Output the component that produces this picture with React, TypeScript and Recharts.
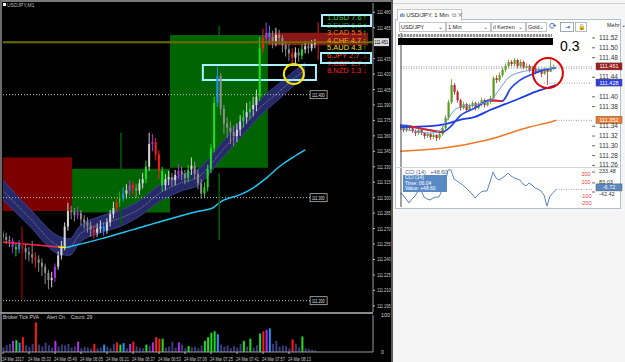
import {
  Area,
  Bar,
  Cell,
  ComposedChart,
  Line,
  ReferenceArea,
  ReferenceDot,
  ReferenceLine,
  XAxis,
  YAxis,
} from 'recharts'

const FONT = '"Liberation Sans", Arial, sans-serif'

// ---- left window: MT4 USDJPY M1, one candle per 2 minutes, prices in points above 111.000
const mtOpen = [
  265, 262, 259, 258, 252, 250, 255, 251, 247, 245, 242, 240, 237, 233, 227, 220, 222, 233, 244, 252,
  272, 287, 286, 283, 285, 279, 276, 273, 269, 266, 270, 272, 268, 276, 284, 290, 295, 300, 304, 307,
  312, 309, 307, 314, 318, 330, 352, 354, 342, 326, 312, 318, 320, 317, 322, 326, 323, 319, 327, 331,
  323, 314, 304, 310, 328, 348, 392, 418, 386, 372, 368, 364, 360, 366, 374, 378, 383, 386, 390, 398,
  445, 455, 460, 456, 452, 458, 455, 448, 444, 440, 436, 441, 438, 444, 447, 445, 449,
]
const mtHigh = [
  268, 266, 263, 261, 256, 259, 262, 255, 252, 258, 247, 244, 241, 236, 230, 228, 236, 248, 258, 276,
  295, 292, 290, 291, 288, 283, 281, 277, 273, 275, 278, 276, 280, 288, 296, 300, 306, 310, 313, 317,
  316, 313, 318, 324, 336, 363, 362, 358, 346, 330, 323, 326, 324, 327, 333, 330, 327, 332, 339, 335,
  327, 318, 315, 332, 352, 398, 427, 421, 390, 378, 374, 370, 372, 380, 385, 392, 394, 398, 405, 456,
  464, 470, 467, 462, 465, 463, 458, 452, 449, 445, 446, 445, 449, 452, 451, 453, 454,
]
const mtLow = [
  258, 255, 252, 246, 243, 246, 245, 240, 238, 236, 232, 228, 224, 216, 211, 213, 218, 230, 240, 249,
  268, 279, 277, 279, 273, 270, 266, 262, 260, 262, 266, 263, 265, 272, 280, 286, 291, 296, 299, 302,
  303, 300, 303, 309, 314, 326, 345, 336, 318, 306, 307, 312, 311, 312, 318, 317, 313, 315, 322, 318,
  308, 299, 300, 306, 324, 344, 388, 380, 362, 358, 352, 350, 354, 360, 368, 372, 376, 379, 384, 394,
  440, 450, 449, 445, 447, 449, 441, 437, 433, 430, 428, 432, 434, 440, 440, 442, 445,
]
const mtClose = [
  262, 259, 258, 252, 250, 255, 251, 247, 245, 242, 240, 237, 233, 227, 220, 222, 233, 244, 252, 272,
  287, 286, 283, 285, 279, 276, 273, 269, 266, 270, 272, 268, 276, 284, 290, 295, 300, 304, 307, 312,
  309, 307, 314, 318, 330, 352, 354, 342, 326, 312, 318, 320, 317, 322, 326, 323, 319, 327, 331, 323,
  314, 304, 310, 328, 348, 392, 418, 386, 372, 368, 364, 360, 366, 374, 378, 383, 386, 390, 398, 445,
  455, 460, 456, 452, 458, 455, 448, 444, 440, 436, 441, 438, 444, 447, 445, 449, 451,
]
const mtVolume = [
  12, 18, 22, 30, 32, 25, 40, 18, 14, 22, 80, 20, 15, 25, 18, 12, 30, 15, 20, 18,
  22, 12, 15, 28, 10, 14, 12, 9, 22, 10, 12, 20, 14, 10, 22, 26, 20, 24, 10, 22,
  28, 15, 12, 10, 20, 16, 26, 40, 36, 36, 12, 15, 28, 12, 26, 20, 10, 16, 12, 14,
  10, 18, 30, 40, 52, 56, 48, 20, 14, 18, 10, 16, 12, 22, 30, 15, 36, 12, 18, 50,
  56, 60, 64, 22, 30, 14, 18, 16, 10, 34, 22, 12, 42, 10, 8, 6, 4,
]
// PVA class of each candle: n normal, r/g/b/p climax colours
const mtPva = (
  'nnnpgbrnnn' + 'rnnnnnpnnn' + 'nnnpnnnnrn' + 'nbnnnrgbnp' + 'rnnngnprrg' +
  'nnnnpnngnn' + 'nnggggbnnn' + 'nnnngngnng' + 'rpbnnnnnnr' + 'nngnnnn'
).split('')

// moving-average ribbon (minutes, points)
const bandMinute = [0, 16, 35, 41, 47, 60, 72, 84, 97, 109, 121, 134, 146, 158, 170, 180, 186]
const bandTop = [317, 290, 262, 260, 272, 282, 288, 297, 313, 322, 329, 352, 374, 395, 411, 424, 431]
const bandMid = [307, 281, 253, 252, 264, 274, 280, 289, 305, 314, 321, 344, 366, 387, 403, 417, 424]
const bandBottom = [298, 273, 245, 244, 256, 266, 272, 282, 297, 306, 313, 337, 358, 379, 396, 410, 417]

// slow MA: red part, yellow turn, cyan part
const maRedMinute = [0, 34]
const maRedValue = [257, 252]
const maYellowMinute = [34, 39]
const maYellowValue = [252, 251.6]
const maCyanMinute = [39, 60, 80, 101, 121, 129, 134, 146, 154, 162, 170, 178, 186]
const maCyanValue = [251.6, 260, 269, 278.6, 287, 290, 296, 303, 309.6, 319, 330, 338.7, 346.4]

// supply / demand zones
const zoneFrom = [0, 42.5, 102.8, 162.5]
const zoneTo = [42.5, 102.8, 163, 224.6]
const zoneLow = [287, 285.5, 329, 448]
const zoneHigh = [339, 328, 458, 460]
const zoneColors = ['#7d0000', '#006400', '#006400', '#8a1818']

// vertical spikes
const spikeMinute = [11.7, 72.6, 133, 133, 194]
const spikeLow = [201, 274, 259, 458, 433.5]
const spikeHigh = [272, 363, 324, 467, 470]
const spikeColors = ['#8b0000', '#006000', '#006000', '#006000', '#a01010']

const mtLevels = [111.4, 111.3, 111.2]
const mtBid = 111.451
const mtPriceTicks = [
  111.48, 111.465, 111.435, 111.42, 111.405, 111.39, 111.375, 111.36, 111.345, 111.33,
  111.315, 111.3, 111.285, 111.27, 111.255, 111.24, 111.225, 111.21, 111.195,
]
const mtTimeMinute = [0, 16, 32, 48, 64, 80, 96, 112, 128, 144, 160, 176]
const mtTimeLabel = [
  '24 Mar 2017', '24 Mar 05:33', '24 Mar 05:49', '24 Mar 06:05', '24 Mar 06:21', '24 Mar 06:37',
  '24 Mar 06:53', '24 Mar 07:09', '24 Mar 07:25', '24 Mar 07:41', '24 Mar 07:57', '24 Mar 08:13',
]

// currency strength meter
const csRank = ['1.USD', '2.EUR', '3.CAD', '4.CHF', '5.AUD', '6.JPY', '7.GBP', '8.NZD']
const csValue = ['7.6', '6.9', '5.5', '4.7', '4.3', '2.7', '2.7', '1.3']
const csUp = [true, true, true, true, true, false, false, false]
const csColors = ['#30d030', '#3a8c10', '#ff7a1a', '#f0a818', '#e6e020', '#ff4a20', '#ff2020', '#ff2020']

// ---- right window: web platform USD/JPY 1 Min, prices in points above 111.000
const rOpen = [
  338, 336, 332, 340, 336, 330, 326, 332, 326, 320, 324, 318, 322, 316, 324, 336, 357, 389, 424, 410,
  393, 377, 385, 373, 381, 387, 377, 385, 393, 383, 389, 397, 438, 434, 444, 455, 463, 471, 467, 475,
  463, 471, 459, 463, 455, 459, 451, 455, 447, 455, 451, 459,
]
const rHigh = [
  342, 340, 344, 342, 338, 333, 336, 334, 328, 328, 326, 326, 324, 328, 340, 362, 394, 436, 428, 414,
  396, 390, 388, 386, 392, 390, 390, 398, 396, 394, 402, 442, 444, 450, 460, 468, 476, 475, 479, 477,
  476, 474, 468, 466, 463, 462, 460, 458, 460, 458, 476, 466,
]
const rLow = [
  332, 328, 328, 332, 326, 320, 322, 322, 314, 316, 312, 314, 310, 312, 320, 333, 352, 385, 404, 388,
  372, 374, 368, 370, 378, 372, 374, 380, 378, 380, 385, 395, 428, 430, 440, 450, 458, 462, 462, 458,
  458, 456, 455, 450, 452, 446, 448, 440, 445, 424, 452, 455,
]
const rClose = [
  336, 332, 340, 336, 330, 326, 332, 326, 320, 324, 318, 322, 316, 324, 336, 357, 389, 424, 410, 393,
  377, 385, 373, 381, 387, 377, 385, 393, 383, 389, 397, 438, 434, 444, 455, 463, 471, 467, 475, 463,
  471, 459, 463, 455, 459, 451, 455, 447, 455, 451, 459, 461,
]
const rFastIdx = [0, 5, 10, 13, 16, 18, 20, 25, 30, 33, 36, 40, 45, 52]
const rFastVal = [334, 330, 326, 330, 355, 372, 379, 384, 392, 414, 438, 450, 455, 459]
const rMidIdx = [0, 3, 8, 14, 17, 20, 25, 30, 34, 37, 40, 44, 48, 52]
const rMidVal = [342, 340, 334, 328, 340, 361, 377, 393, 391, 418, 434, 446, 455, 459]
const rMidFalling = [[3, 14], [30, 34]]
const rSlowIdx = [0, 10, 15, 20, 25, 30, 35, 40, 45, 50, 52]
const rSlowVal = [338, 340, 344, 353, 359, 373, 385, 397, 410, 420, 424]
const rOrangeIdx = [0, 14, 29, 43, 51, 52]
const rOrangeVal = [289, 295, 312, 338, 350, 352]
const rPriceTicks = [111.52, 111.5, 111.48, 111.44, 111.4, 111.38, 111.34, 111.32, 111.3, 111.28, 111.26]
const rTags = [111.461, 111.428, 111.352]
const rTagColors = ['#9e1a1a', '#2f3fe0', '#f07a2c']

const cciValue = [
  -56, -84, -139, -194, -139, -98, -29, -15, -112, -139, -153, -125, -112, -112, -15, 68, 261, 261, 137, 109,
  82, 54, 13, -29, -70, -125, -84, -42, -29, -29, 95, 233, 151, 123, 151, 178, 220, 178, 151, 137,
  123, 68, 40, 82, 54, 13, -1, -29, -84, -236, -98, -56, -7,
]
const cciLevels = [200, 100, -100, -200]
const cciTicks = [233.48, 83.03, -42.42]
const cciLast = -6.72

const toPrice = (p: number) => 111 + p / 1000

const PVA: Record<string, string> = { r: '#ff1a1a', g: '#1ee01e', b: '#1e90ff', p: '#b030e8' }

const mtRows = mtClose.map((c, i) => ({
  m: i * 2,
  open: toPrice(mtOpen[i]),
  close: toPrice(c),
  high: toPrice(mtHigh[i]),
  low: toPrice(mtLow[i]),
  range: [toPrice(mtLow[i]), toPrice(mtHigh[i])],
  vol: mtVolume[i],
  pva: mtPva[i],
}))
const bandRows = bandMinute.map((m, i) => ({
  m,
  band: [toPrice(bandBottom[i]), toPrice(bandTop[i])],
  mid: toPrice(bandMid[i]),
}))
const pairs = (xs: number[], vs: number[], key = 'm') =>
  xs.map((x, i) => ({ [key]: x, v: toPrice(vs[i]) }))

const rRows = rClose.map((c, i) => ({
  i,
  open: toPrice(rOpen[i]),
  close: toPrice(c),
  high: toPrice(rHigh[i]),
  low: toPrice(rLow[i]),
  range: [toPrice(rLow[i]), toPrice(rHigh[i])],
}))
const cciRows = cciValue.map((v, i) => ({ i, v }))

function candleGeom(props: any) {
  const { x, y, width, height, payload } = props
  const top = Math.min(y, y + height)
  const h = Math.abs(height)
  const k = payload.high > payload.low ? h / (payload.high - payload.low) : 0
  const yo = top + (payload.high - payload.open) * k
  const yc = top + (payload.high - payload.close) * k
  return { cx: x + width / 2, top, h, yo, yc }
}

function MtCandle(props: any) {
  if (!props.payload || props.height == null) return null
  const { cx, top, h, yo, yc } = candleGeom(props)
  const p = props.payload
  const color = p.pva === 'n' ? (p.close >= p.open ? '#d6d6d6' : '#8e8e8e') : PVA[p.pva]
  return (
    <g>
      <line x1={cx} x2={cx} y1={top} y2={top + h} stroke={color} strokeWidth={1} />
      <rect x={cx - 1} y={Math.min(yo, yc)} width={2} height={Math.max(1, Math.abs(yc - yo))} fill={color} />
    </g>
  )
}

function RCandle(props: any) {
  if (!props.payload || props.height == null) return null
  const { cx, top, h, yo, yc } = candleGeom(props)
  const p = props.payload
  const color = p.close >= p.open ? '#5c9a1c' : '#b8282c'
  return (
    <g>
      <line x1={cx} x2={cx} y1={top} y2={top + h} stroke={color} strokeWidth={0.8} />
      <rect x={cx - 1} y={Math.min(yo, yc)} width={2.2} height={Math.max(1, Math.abs(yc - yo))} fill={color} />
    </g>
  )
}

// narrow MT4 pixel font: squeeze text horizontally
function Squeezed({ x, y, size, sx, fill, children }: any) {
  return (
    <text transform={`translate(${x},${y}) scale(${sx},1)`} fontSize={size} fill={fill} fontFamily={FONT}>
      {children}
    </text>
  )
}

const mtTick = (props: any) => (
  <Squeezed x={props.x} y={props.y + 2} size={5.5} sx={0.72} fill="#d0d0d0">
    {Number(props.payload.value).toFixed(3)}
  </Squeezed>
)

const mtTimeTick = (props: any) => {
  const idx = mtTimeMinute.indexOf(props.payload.value)
  return (
    <Squeezed x={props.x - 1} y={props.y + 5} size={5} sx={0.78} fill="#c8c8c8">
      {mtTimeLabel[idx]}
    </Squeezed>
  )
}

const levelTag = (value: number) => (props: any) => (
  <g>
    <rect x={props.cx} y={props.cy - 4} width={17} height={8} fill="#000" stroke="#b8b8b8" strokeWidth={0.8} />
    <Squeezed x={props.cx + 2} y={props.cy + 2} size={5} sx={0.72} fill="#e0e0e0">
      {value.toFixed(3)}
    </Squeezed>
  </g>
)

const bidTag = (props: any) => (
  <g>
    <rect x={props.cx + 1} y={props.cy - 4} width={15} height={8} fill="#d8d8d8" />
    <Squeezed x={props.cx + 1.5} y={props.cy + 2} size={5.5} sx={0.72} fill="#000">
      {mtBid.toFixed(3)}
    </Squeezed>
  </g>
)

const rTag = (color: string, text: string) => (props: any) => (
  <g>
    <rect x={props.cx + 4} y={props.cy - 4} width={26} height={7} fill={color} stroke="#555" strokeWidth={0.5} />
    <text x={props.cx + 17} y={props.cy + 1.5} fontSize={5.5} fill="#fff" fontFamily={FONT} textAnchor="middle">
      {text}
    </text>
  </g>
)

const cciLevelLabel = (value: number) => (props: any) => (
  <text x={props.cx} y={props.cy + 2} fontSize={5.5} fill="#e84040" fontFamily={FONT} textAnchor="middle">
    {value}
  </text>
)

function MtWindow() {
  return (
    <div style={{ position: 'absolute', left: 0, top: 0, width: 391, height: 362, background: '#000' }}>
      <div style={{ position: 'absolute', left: 0, top: 0, width: 391, height: 2, background: '#7a7a7a' }} />
      <div style={{ position: 'absolute', left: 0, top: 0, width: 2, height: 362, background: '#6a6a6a' }} />
      <div style={{ position: 'absolute', left: 0, top: 0 }}>
        <ComposedChart width={391} height={312} data={mtRows} margin={{ top: 3, right: 1, bottom: 0, left: 3 }}>
          <XAxis dataKey="m" type="number" domain={[0, 227.7]} hide allowDataOverflow />
          <YAxis orientation="right" width={17} domain={[111.189, 111.489]} ticks={mtPriceTicks}
            allowDataOverflow interval={0} axisLine={{ stroke: '#9a9a9a' }} tickLine={{ stroke: '#bbb' }}
            tickSize={2} tick={mtTick} />
          {zoneFrom.map((f, i) => (
            <ReferenceArea key={'z' + i} x1={f} x2={zoneTo[i]} y1={toPrice(zoneLow[i])} y2={toPrice(zoneHigh[i])}
              fill={zoneColors[i]} fillOpacity={1} stroke="none" />
          ))}
          {mtLevels.map((lv) => (
            <ReferenceLine key={'l' + lv} segment={[{ x: 0, y: lv }, { x: 189, y: lv }]}
              stroke="#bdbdbd" strokeDasharray="1 2" strokeWidth={1} />
          ))}
          <Area data={bandRows} dataKey="band" type="monotone" stroke="#3c418c" strokeWidth={1}
            fill="#262a68" fillOpacity={1} isAnimationActive={false} />
          <Line data={bandRows} dataKey="mid" type="monotone" stroke="#9a9aae" strokeWidth={0.8}
            strokeDasharray="1 1" dot={false} isAnimationActive={false} />
          <Line data={pairs(maRedMinute, maRedValue)} dataKey="v" stroke="#ff2850" strokeWidth={1.5}
            dot={false} isAnimationActive={false} />
          <Line data={pairs(maYellowMinute, maYellowValue)} dataKey="v" stroke="#ffee00" strokeWidth={1.5}
            dot={false} isAnimationActive={false} />
          <Line data={pairs(maCyanMinute, maCyanValue)} dataKey="v" type="monotone" stroke="#1ec8f5"
            strokeWidth={1.5} dot={false} isAnimationActive={false} />
          {spikeMinute.map((m, i) => (
            <ReferenceLine key={'s' + i} segment={[{ x: m, y: toPrice(spikeLow[i]) }, { x: m, y: toPrice(spikeHigh[i]) }]}
              stroke={spikeColors[i]} strokeWidth={1.5} />
          ))}
          <ReferenceLine y={mtBid} stroke="#6e6e00" strokeWidth={2} />
          <Bar dataKey="range" barSize={2} shape={MtCandle} isAnimationActive={false} />
          <ReferenceArea x1={123} x2={192.6} y1={111.4142} y2={111.4287} fill="none" stroke="#a8f0ff" strokeWidth={2} />
          <ReferenceDot x={179} y={111.42} r={10} fill="none" stroke="#ffe400" strokeWidth={2} />
          {mtLevels.map((lv) => (
            <ReferenceDot key={'t' + lv} x={189} y={lv} ifOverflow="visible" shape={levelTag(lv)} />
          ))}
          <ReferenceDot x={227.7} y={mtBid} ifOverflow="visible" shape={bidTag} />
        </ComposedChart>
      </div>
      {/* volume panel */}
      <div style={{ position: 'absolute', left: 0, top: 312, width: 373, height: 1.5, background: '#8a8a8a' }} />
      <div style={{ position: 'absolute', left: 0, top: 312 }}>
        <ComposedChart width={391} height={50} data={mtRows} margin={{ top: 3, right: 1, bottom: 0, left: 3 }}>
          <XAxis dataKey="m" type="number" domain={[0, 227.7]} ticks={mtTimeMinute} interval={0} height={10}
            axisLine={{ stroke: '#9a9a9a' }} tickLine={{ stroke: '#bbb' }} tickSize={2} tick={mtTimeTick} />
          <YAxis orientation="right" width={17} domain={[0, 100]} ticks={[0, 100]} interval={0}
            axisLine={{ stroke: '#9a9a9a' }} tickLine={false}
            tick={(p: any) => (
              <text x={p.x} y={p.y + 2} fontSize={5.5} fill="#d0d0d0" fontFamily={FONT}>{p.payload.value}</text>
            )} />
          <Bar dataKey="vol" barSize={2} isAnimationActive={false}>
            {mtRows.map((r, i) => (
              <Cell key={i} fill={r.pva === 'n' ? '#3b3b7d' : PVA[r.pva]} />
            ))}
          </Bar>
        </ComposedChart>
      </div>
      <div style={{ position: 'absolute', left: 3, top: 314, fontFamily: FONT, fontSize: 5, color: '#cfcfcf',
        whiteSpace: 'pre' }}>
        {'Broker Tick PVA      Alert On.   Count: 29'}
      </div>
      <div style={{ position: 'absolute', left: 3, top: 3, width: 3, height: 3, background: '#fff' }} />
      <div style={{ position: 'absolute', left: 7, top: 1.5, fontFamily: FONT, fontSize: 5, color: '#bbb' }}>
        USDJPY,M1
      </div>
      {/* currency strength meter */}
      {csRank.map((c, i) => (
        <div key={c} style={{ position: 'absolute', left: 327, top: 14 + i * 7.6, height: 8, lineHeight: '8px',
          fontFamily: FONT, fontSize: 7.5, color: csColors[i], whiteSpace: 'pre' }}>
          {c + ' ' + csValue[i]}
          <span style={{ position: 'absolute', left: 36, fontWeight: 700, color: csUp[i] ? '#00f000' : '#ff2020' }}>
            {csUp[i] ? '↑' : '↓'}
          </span>
        </div>
      ))}
      <div style={{ position: 'absolute', left: 321, top: 14, width: 47, height: 9, border: '2px solid #a8f0ff' }} />
      <div style={{ position: 'absolute', left: 320, top: 52, width: 48, height: 8, border: '2px solid #a8f0ff' }} />
    </div>
  )
}

const toolBox = (left: number, width: number, label: string) => (
  <div style={{ position: 'absolute', left, top: 22, width, height: 8, border: '1px solid #c4c4c4',
    background: '#fff', fontFamily: FONT, fontSize: 5.5, lineHeight: '8px', color: '#222', paddingLeft: 1,
    boxSizing: 'content-box', whiteSpace: 'pre' }}>
    {label}
    <span style={{ position: 'absolute', right: 2, top: 0, color: '#555' }}>⌄</span>
  </div>
)

function WebWindow() {
  return (
    <div style={{ position: 'absolute', left: 391, top: 0, width: 234, height: 362, background: '#f5f5f5' }}>
      <div style={{ position: 'absolute', left: 0, top: 0, width: 2, height: 362, background: '#5a5a5a' }} />
      <div style={{ position: 'absolute', left: 2, top: 3, width: 232, height: 1, background: '#d0d0d0' }} />
      <div style={{ position: 'absolute', left: 4, top: 19, width: 224, height: 188, border: '1px solid #b4c0cc',
        background: '#fff' }} />
      {/* tab */}
      <div style={{ position: 'absolute', left: 6, top: 9, width: 63, height: 11, border: '1px solid #c8c8c8',
        borderBottom: 'none', background: '#fff', fontFamily: FONT, fontSize: 6, lineHeight: '11px', color: '#222',
        whiteSpace: 'pre' }}>
        <span style={{ color: '#2a5aa0', fontWeight: 700 }}>{' ılı '}</span>USD/JPY, 1 Min
        <span style={{ color: '#777' }}>{'  ⧉ ✕'}</span>
      </div>
      {toolBox(8, 44, 'USD/JPY')}
      {toolBox(55, 42, '1 Min')}
      {toolBox(100, 32, 'ıl Kerzen')}
      {toolBox(135, 18, 'Gold')}
      <div style={{ position: 'absolute', left: 158, top: 21, fontSize: 9, color: '#3a6ab0', fontFamily: FONT }}>⟳</div>
      <div style={{ position: 'absolute', left: 169, top: 22, width: 12, height: 8, border: '1px solid #9ab',
        fontSize: 6, lineHeight: '8px', textAlign: 'center', color: '#2a5aa0' }}>⇥</div>
      <div style={{ position: 'absolute', left: 184, top: 22, width: 10, height: 8, border: '1px solid #bbb',
        fontSize: 6, lineHeight: '8px', textAlign: 'center', color: '#333' }}>🔒</div>
      <div style={{ position: 'absolute', left: 216, top: 22, fontFamily: FONT, fontSize: 5.5, color: '#222',
        whiteSpace: 'pre' }}>{'Mehr ⌄'}</div>
      {/* price pane */}
      <div style={{ position: 'absolute', left: 5, top: 33 }}>
        <ComposedChart width={229} height={135} data={rRows} margin={{ top: 0, right: 0, bottom: 0, left: 4 }}>
          <XAxis dataKey="i" type="number" domain={[0, 64]} hide allowDataOverflow />
          <YAxis orientation="right" width={33} domain={[111.2547, 111.5302]} ticks={rPriceTicks} interval={0}
            allowDataOverflow axisLine={false} tickLine={{ stroke: '#666' }} tickSize={3}
            tick={(p: any) => (
              <text x={p.x + 2} y={p.y + 2} fontSize={6.5} fill="#333" fontFamily={FONT}>
                {Number(p.payload.value).toFixed(2)}
              </text>
            )} />
          <ReferenceLine y={111.461} stroke="#9a9a9a" strokeDasharray="1 1.5" />
          <ReferenceLine y={111.458} stroke="#b8b8b8" strokeDasharray="1 1.5" />
          <ReferenceLine segment={[{ x: 48, y: 111.428 }, { x: 64, y: 111.428 }]} stroke="#9a9a9a" strokeDasharray="1 1.5" />
          <ReferenceLine segment={[{ x: 52, y: 111.352 }, { x: 64, y: 111.352 }]} stroke="#9a9a9a" strokeDasharray="1 1.5" />
          <Line data={pairs(rOrangeIdx, rOrangeVal, 'i')} dataKey="v" type="monotone" stroke="#f07828"
            strokeWidth={1.5} dot={false} isAnimationActive={false} />
          <Line data={pairs(rSlowIdx, rSlowVal, 'i')} dataKey="v" type="monotone" stroke="#1f3be6"
            strokeWidth={1.8} dot={false} isAnimationActive={false} />
          <Line data={pairs(rMidIdx, rMidVal, 'i')} dataKey="v" type="monotone" stroke="#2547e8"
            strokeWidth={1.8} dot={false} isAnimationActive={false} />
          {rMidFalling.map(([a, b]) => (
            <Line key={'f' + a}
              data={pairs(rMidIdx.filter((x) => x >= a && x <= b), rMidVal.filter((_, k) => rMidIdx[k] >= a && rMidIdx[k] <= b), 'i')}
              dataKey="v" stroke="#e02020" strokeWidth={1.8} dot={false} isAnimationActive={false} />
          ))}
          <Line data={pairs(rFastIdx, rFastVal, 'i')} dataKey="v" type="monotone" stroke="#6b9bd8"
            strokeWidth={1} dot={false} isAnimationActive={false} />
          <Bar dataKey="range" barSize={2} shape={RCandle} isAnimationActive={false} />
          <ReferenceLine x={0.33} stroke="#444" strokeWidth={1} />
          <ReferenceDot x={49.3} y={111.4485} r={15} fill="none" stroke="#e00000" strokeWidth={2} />
          {rTags.map((t, k) => (
            <ReferenceDot key={'rt' + t} x={64} y={t} ifOverflow="visible"
              shape={rTag(rTagColors[k], t.toFixed(3))} />
          ))}
        </ComposedChart>
      </div>
      <div style={{ position: 'absolute', left: 7, top: 34, width: 154, height: 3,
        background: 'repeating-linear-gradient(90deg,#777 0 2px,#ddd 2px 3px)', opacity: 0.8 }} />
      <div style={{ position: 'absolute', left: 7, top: 38, width: 155, height: 7, background: '#000' }} />
      <div style={{ position: 'absolute', left: 169, top: 39, fontFamily: FONT, fontSize: 14, lineHeight: '14px',
        color: '#000' }}>0.3</div>
      {/* CCI pane */}
      <div style={{ position: 'absolute', left: 5, top: 167, width: 223, height: 1, background: '#d6d6d6' }} />
      <div style={{ position: 'absolute', left: 5, top: 168 }}>
        <ComposedChart width={229} height={39} margin={{ top: 0, right: 0, bottom: 0, left: 4 }}>
          <XAxis dataKey="i" type="number" domain={[0, 64]} hide allowDataOverflow />
          <YAxis orientation="right" width={33} domain={[-249.5, 288.7]} ticks={cciTicks} interval={0}
            allowDataOverflow axisLine={false} tickLine={{ stroke: '#666' }} tickSize={3}
            tick={(p: any) => (
              <text x={p.x + 2} y={p.y + (p.payload.value < 0 ? 4 : 1)} fontSize={5.5} fill="#333" fontFamily={FONT}>
                {Number(p.payload.value).toFixed(2)}
              </text>
            )} />
          {cciLevels.map((lv) => (
            <ReferenceLine key={'c' + lv} segment={[{ x: -1, y: lv }, { x: 60, y: lv }]}
              stroke="#f04848" strokeDasharray="3 2" strokeWidth={1} />
          ))}
          {cciLevels.map((lv) => (
            <ReferenceDot key={'cl' + lv} x={62} y={lv} ifOverflow="visible" shape={cciLevelLabel(lv)} />
          ))}
          <ReferenceLine segment={[{ x: 52, y: cciLast }, { x: 64, y: cciLast }]} stroke="#9a9a9a" strokeDasharray="1 1.5" />
          <Line data={cciRows} dataKey="v" stroke="#5b86c0" strokeWidth={1} dot={false} isAnimationActive={false} />
          <ReferenceLine x={0.33} stroke="#444" strokeWidth={1} />
          <ReferenceDot x={64} y={cciLast} ifOverflow="visible"
            shape={(p: any) => rTag('#5b88c0', cciLast.toFixed(2))({ ...p, cy: p.cy - 1.5 })} />
        </ComposedChart>
      </div>
      <div style={{ position: 'absolute', left: 14, top: 169, fontFamily: FONT, fontSize: 5.5, color: '#4a5a80',
        whiteSpace: 'pre' }}>{'CCI (14)   +48.60'}</div>
      <div style={{ position: 'absolute', left: 12, top: 175, width: 44, height: 17, background: '#5a8ac6',
        fontFamily: FONT, fontSize: 5, lineHeight: '5.6px', color: '#fff', paddingLeft: 2, boxSizing: 'border-box' }}>
        <div>CCI (14)</div>
        <div>Time: 06:04</div>
        <div>Value: +48.60</div>
      </div>
    </div>
  )
}

export default function App() {
  return (
    <div style={{ position: 'fixed', left: 0, top: 0, width: 625, height: 362, overflow: 'hidden', background: '#000' }}>
      <MtWindow />
      <WebWindow />
    </div>
  )
}
